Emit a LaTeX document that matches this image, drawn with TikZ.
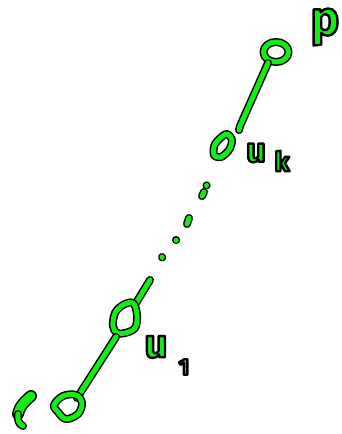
\documentclass[tikz,border=0pt]{standalone}
\usepackage{fontspec}
\setsansfont{Fira Sans}
\definecolor{gr}{HTML}{11EE11}
\tikzset{
  ink/.style={draw=gr, line width=5pt, line cap=round, line join=round,
    preaction={draw=black, line width=8pt, line cap=round, line join=round}},
  fat/.style={draw=gr, line width=9pt, line cap=round, line join=round,
    preaction={draw=black, line width=12pt, line cap=round, line join=round}},
  lbl/.style={inner sep=0pt, text=gr}
}
\newcommand\outl[1]{\special{pdf:literal direct 2 Tr 2.4 w 1 j 0 0 0 RG}#1\special{pdf:literal direct 0 Tr}}
\newcommand\lblfont[1]{\sffamily\bfseries\fontsize{#1}{#1}\selectfont}
\begin{document}
\begin{tikzpicture}[x=1pt,y=-1pt]
\useasboundingbox (0,0) rectangle (342,434);
% named places
\coordinate (pP)  at (325,27);
\coordinate (uKu) at (256,153);
\coordinate (uKk) at (282,161);
\coordinate (u1u) at (156,347);
\coordinate (u11) at (184,367);
% top node
\draw[ink] (276,52) ellipse [x radius=12.5, y radius=10];
\draw[ink] (268,63) -- (240,126) -- (239,130);
% node u_k
\draw[ink] plot[smooth cycle] coordinates {(226,134) (232,140) (229,150) (221,157) (214,155) (215,144)};
% dots
\draw[ink] (206.5,185.5) -- (206.6,185.4);
\draw[ink] (202,196) -- (204,192);
\draw[ink] (187,224) -- (189,218);
\draw[ink] (176,240) -- (176.2,240);
\draw[ink] (162,257) -- (162.2,257.5);
\draw[ink] (150,280) -- (136,303);
% node u_1
\draw[ink] plot[smooth cycle, tension=0.6] coordinates {(115,313) (123,305) (133,303) (137,315) (135,328) (125,333) (117,333) (113,326)};
\draw[ink] (116,337) -- (77,398);
% bottom node
\draw[ink] plot[smooth cycle, tension=0.6] coordinates {(54,405) (63,396) (76,395) (82,403) (78,414) (66,419) (58,412)};
% left mark
\draw[fat] (31,396) .. controls (25,401) and (19,407) .. (18,414);
\draw[ink] (18,414) .. controls (17,420) and (19,424) .. (23,426);
% labels
\node[lbl, font=\lblfont{48}] (lp) at (pP) {\outl{p}};
\node[lbl, font=\lblfont{34}] (luk) at (uKu) {\outl{u}};
\node[lbl, font=\lblfont{27}] (lk) at (uKk) {\outl{k}};
\node[lbl, font=\lblfont{40}] (lu1) at (u1u) {\outl{u}};
\node[lbl, font=\lblfont{23}] (l1) at (u11) {\outl{1}};
\end{tikzpicture}
\end{document}
